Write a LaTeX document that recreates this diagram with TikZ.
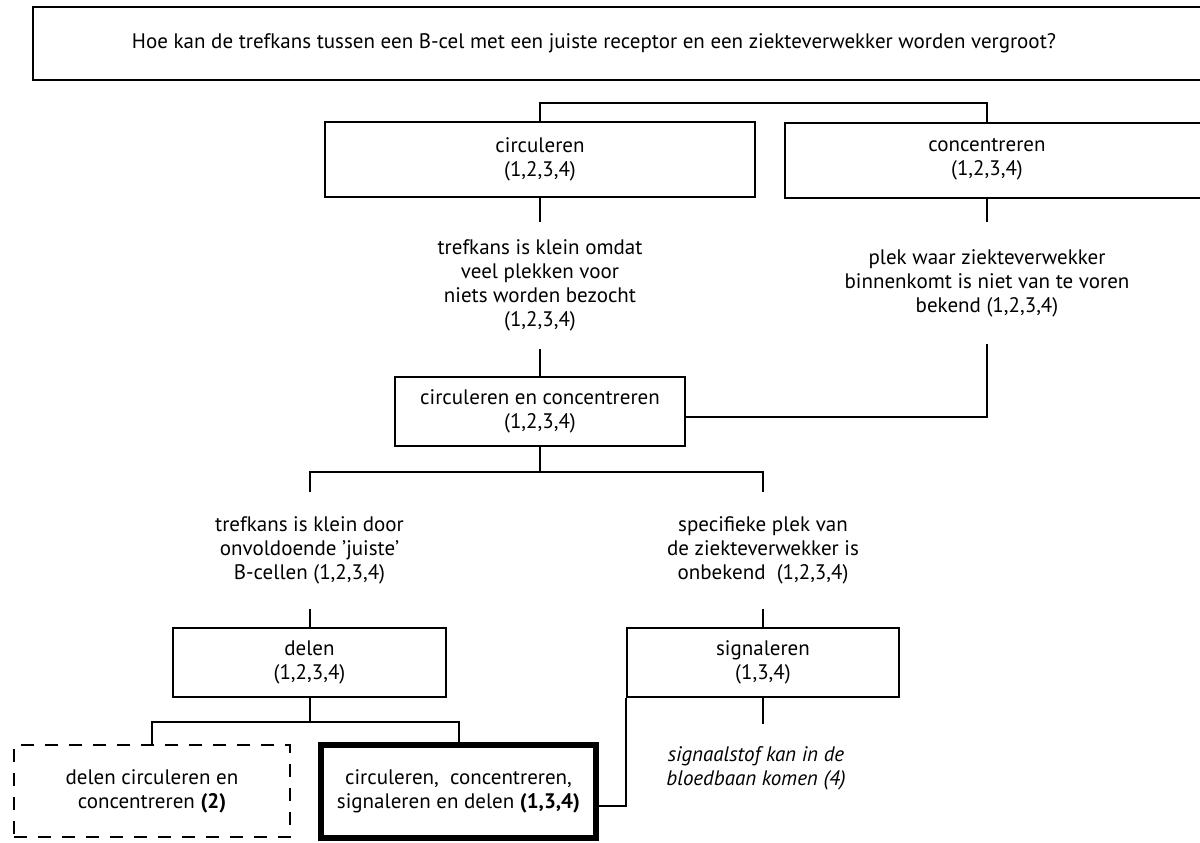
\documentclass[tikz,border=0pt]{standalone}
\usepackage{fontspec}
\setmainfont{PT Sans}
\usepackage{tikz}

\begin{document}
\begin{tikzpicture}[x=1pt, y=-1pt, line width=2pt,
  tekst/.style={align=center, inner sep=0pt, font=\fontsize{21}{24}\selectfont},
  kader/.style={tekst, draw, line width=2pt},
  vetkader/.style={tekst, draw, line width=6pt},
  stippelkader/.style={tekst, draw, line width=2.2pt, dash pattern=on 13pt off 11pt}]
\useasboundingbox (0,0) rectangle (1200,843);
\clip (0,0) rectangle (1200,843);
\fill[white] (0,0) rectangle (1200,843);

\node[kader, anchor=north west, minimum width=1190, minimum height=73] (vraag) at (32,6) {};
\node[tekst] (vraagtekst) at (594,43) {Hoe kan de trefkans tussen een B-cel met een juiste receptor en een ziekteverwekker worden vergroot?};

\node[kader, minimum width=430, minimum height=75] (circ) at (540,159.5) {circuleren\\(1,2,3,4)};
\node[kader, anchor=north west, minimum width=440, minimum height=75] (conc) at (784,122) {};
\node[tekst] (conctekst) at (987,159.5) {concentreren\\(1,2,3,4)};
\draw (circ.north) |- ([yshift=19pt]conctekst |- conc.north) -- (conctekst |- conc.north);

\node[tekst, minimum height=125] (omdat) at (540,285.5) {trefkans is klein omdat\\veel plekken voor\\niets worden bezocht\\(1,2,3,4)};
\node[tekst, minimum height=120] (plek) at (987,283) {plek waar ziekteverwekker\\binnenkomt is niet van te voren\\bekend (1,2,3,4)};
\draw (circ.south) -- (omdat.north);
\draw (conctekst |- conc.south) -- (plek.north);

\node[kader, minimum width=290, minimum height=69] (cc) at (540,411.5) {circuleren en concentreren\\(1,2,3,4)};
\draw (omdat.south) -- (cc.north);
\draw (plek.south) |- ([yshift=-5.5pt]cc.east);

\node[tekst, minimum height=115] (juist) at (309.5,550.5) {trefkans is klein door\\onvoldoende 'juiste'\\B-cellen (1,2,3,4)};
\node[tekst, minimum height=115] (spec) at (763,550.5) {specifieke plek van\\de ziekteverwekker is\\onbekend~ (1,2,3,4)};
\coordinate (splitcc) at (540,472);
\draw (cc.south) -- (splitcc);
\draw (juist.north) |- (splitcc) -| (spec.north);

\node[kader, minimum width=273, minimum height=69] (delen) at (309.5,662.5) {delen\\(1,2,3,4)};
\node[kader, minimum width=272, minimum height=69] (sig) at (763,662.5) {signaleren\\(1,3,4)};
\draw (juist.south) -- (delen.north);
\draw (spec.south) -- (sig.north);

\node[tekst, minimum height=87, font=\fontsize{21}{24}\selectfont\itshape] (stof) at (756,768.5) {signaalstof kan in de\\bloedbaan komen (4)};
\draw (sig.south) -- (sig.south |- stof.north);

\node[stippelkader, minimum width=276, minimum height=92] (twee) at (152,791) {delen circuleren en\\concentreren \textbf{(2)}};
\node[vetkader, minimum width=275, minimum height=93] (alles) at (458.5,791.5) {circuleren,~ concentreren,\\signaleren en delen \textbf{(1,3,4)}};
\coordinate (splitdelen) at (309.5,722);
\draw (delen.south) -- (splitdelen);
\draw (twee.north) |- (splitdelen) -| (alles.north);
\draw ([yshift=-14.5pt]alles.east) -| (sig.south west);
\end{tikzpicture}
\end{document}
